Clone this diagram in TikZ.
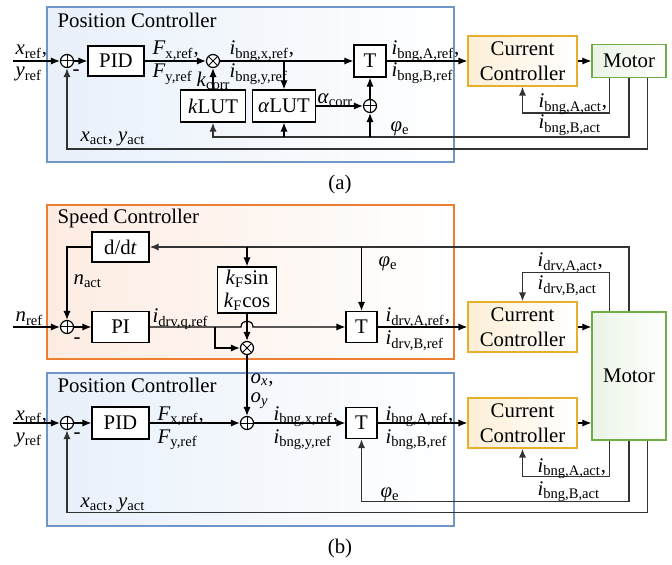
\documentclass[tikz,border=0pt]{standalone}
\usepackage{fontspec}
\setmainfont{Liberation Serif}
\usetikzlibrary{arrows.meta,calc}
\definecolor{posline}{RGB}{112,150,200}
\definecolor{posfill}{RGB}{232,240,250}
\definecolor{spdline}{RGB}{237,125,49}
\definecolor{spdfill}{RGB}{253,236,226}
\definecolor{ccline}{RGB}{232,175,45}
\definecolor{ccfill}{RGB}{253,239,215}
\definecolor{motline}{RGB}{112,173,71}
\definecolor{motfill}{RGB}{234,243,229}
\newcommand{\vsb}[2]{\textit{#1}\textsubscript{#2}}
\tikzset{blk/.style={draw, fill=white, inner sep=0pt}}
\tikzset{lb/.style={inner sep=0pt, anchor=base west}}
\tikzset{ccbox/.style={draw=ccline, left color=ccfill, right color=white, inner sep=0pt, align=center, minimum width=54.5pt, minimum height=25pt}}
\tikzset{motbox/.style={draw=motline, left color=motfill, right color=white, inner sep=0pt, minimum width=37pt}}
\tikzset{posbox/.style={draw=posline, left color=posfill, right color=white}}
\tikzset{spdbox/.style={draw=spdline, left color=spdfill, right color=white}}
\tikzset{fb/.style={draw=black!80, line width=0.8pt}}
\tikzset{sumc/.style={circle, draw, fill=white, inner sep=0pt, minimum size=6.5pt,
  path picture={\draw[line width=0.5pt] (path picture bounding box.north) -- (path picture bounding box.south)
    (path picture bounding box.west) -- (path picture bounding box.east);}}}
\tikzset{mulc/.style={circle, draw, fill=white, inner sep=0pt, minimum size=6.5pt,
  path picture={\draw[line width=0.5pt] (path picture bounding box.north west) -- (path picture bounding box.south east)
    (path picture bounding box.north east) -- (path picture bounding box.south west);}}}

\begin{document}
\begin{tikzpicture}[x=0.5pt, y=-0.5pt, line width=0.6pt,
    font=\fontsize{10.4}{12.5}\selectfont, >={Latex[length=4.5pt,width=3.6pt]}]
  \useasboundingbox (0,0) rectangle (672,565);
  % (a)
  \draw[posbox] (47,7) rectangle (454,162);
  \node[lb] (tiA) at (57,28) {Position Controller};
  \coordinate (inA) at (13,61);
  \node[sumc] (sA) at (67,61) {};
  \node[blk, minimum width=28pt, minimum height=15pt] (pidA) at (116,61) {PID};
  \node[mulc] (mA) at (213,61) {};
  \node[blk, minimum width=32.5pt, minimum height=16pt] (klut) at (213,106) {\textit{k}LUT};
  \node[blk, minimum width=31.5pt, minimum height=16pt] (alut) at (284,106) {\textit{α}LUT};
  \node[blk, minimum size=16pt] (tA) at (370,61) {T};
  \node[sumc] (aA) at (370,106) {};
  \node[ccbox] (ccA) at (522.5,61) {Current\\Controller};
  \node[motbox, minimum height=16.5pt] (motA) at (629,61) {Motor};
  \draw[->] (inA) -- (sA);
  \draw[->] (sA) -- (pidA);
  \draw[->] (pidA) -- (mA);
  \draw[->] (mA) -- (tA);
  \draw[->] (klut) -- (mA);
  \draw[->] (mA.east -| alut.north) -- (alut.north);
  \draw[->] (alut) -- (aA);
  \draw[->] (aA) -- (tA);
  \draw[->] (tA) -- (ccA);
  \draw[->] (ccA) -- (motA);
  \draw[fb, ->] ($(motA.south west)+(18,0)$) -- ++(0,35) -| (ccA.south);
  \draw[fb, ->] (motA.south) -- ++(0,59) coordinate (phA) -| (klut.south);
  \draw[->] (alut.south |- phA) -- (alut.south);
  \draw[->] (aA.south |- phA) -- (aA.south);
  \draw[fb, ->] ($(motA.south east)+(-19,0)$) -- ++(0,71) -| (sA.south);
  \node[lb] (xrA) at (15,55) {\vsb{x}{ref},};
  \node[lb] (yrA) at (15,77) {\vsb{y}{ref}};
  \node (mnA) at (76,73) {-};
  \node[lb] (fxA) at (152,55) {\vsb{F}{x,ref},};
  \node[lb] (fyA) at (152,78) {\vsb{F}{y,ref}};
  \node[lb] (ixA) at (229,55) {\vsb{i}{bng,x,ref},};
  \node[lb] (iyA) at (229,78) {\vsb{i}{bng,y,ref}};
  \node[lb] (kcA) at (196,87) {\vsb{k}{corr}};
  \node[lb] (acA) at (317,104) {\vsb{α}{corr}};
  \node[lb] (iaA) at (391,55) {\vsb{i}{bng,A,ref},};
  \node[lb] (ibA) at (391,77) {\vsb{i}{bng,B,ref}};
  \node[lb] (iaaA) at (538,108) {\vsb{i}{bng,A,act},};
  \node[lb] (ibaA) at (538,129) {\vsb{i}{bng,B,act}};
  \node[lb] (phlA) at (390,132) {\vsb{φ}{e}};
  \node[lb] (xaA) at (80,142) {\vsb{x}{act}, \vsb{y}{act}};
  \node (capA) at (340,185) {(a)};
  % (b) speed loop
  \draw[spdbox] (47,205) rectangle (454,359);
  \node[lb] (tiS) at (57,224) {Speed Controller};
  \coordinate (inS) at (13,327);
  \node[sumc] (sS) at (67,327) {};
  \node[blk, minimum width=28.5pt, minimum height=15pt] (ddt) at (120.5,247) {d/d\textit{t}};
  \node[blk, minimum width=28.5pt, minimum height=15.5pt] (pi) at (120.5,327) {PI};
  \node[blk, minimum width=29.5pt, minimum height=23pt, align=center] (kf) at (247,290)
    {\vsb{k}{F}sin\\[-1pt]\vsb{k}{F}cos};
  \node[mulc] (mS) at (247,348) {};
  \node[blk, minimum size=15.5pt] (tS) at (361.5,327) {T};
  \node[ccbox] (ccS) at (522.5,327) {Current\\Controller};
  \node[motbox, minimum height=64pt] (motB) at (629,376) {Motor};
  \coordinate (hop) at (pi.east -| kf.south);
  \coordinate (brS) at (215,327);
  \draw[->] (inS) -- (sS);
  \draw[->] (sS) -- (pi);
  \draw[->] (pi.east) -- ($(hop)+(-6,0)$) .. controls +(0,-8) and +(0,-8) .. ($(hop)+(6,0)$) -- (tS.west);
  \draw[->] (brS) |- (mS.west);
  \draw[->] (kf.south) -- (mS.north);
  \draw[->] (tS) -- (ccS);
  \draw[->] (ccS.east) -- (ccS.east -| motB.west);
  \draw[fb, ->] (motB.north) |- (ddt.east);
  \draw[->] (kf.north |- ddt.east) -- (kf.north);
  \draw[->] (tS.north |- ddt.east) -- (tS.north);
  \draw[->] (ddt.west) -| (sS.north);
  \draw[fb, ->] ($(motB.north west)+(18,0)$) -- ++(0,-39) -| (ccS.north);
  \node[lb] (nrS) at (15,322) {\vsb{n}{ref}};
  \node[lb] (naS) at (73,285) {\vsb{n}{act}};
  \node (mnS) at (77,341) {-};
  \node[lb] (iqS) at (152,323) {\vsb{i}{drv,q,ref}};
  \node[lb] (phlS) at (378,267) {\vsb{φ}{e}};
  \node[lb] (iaaS) at (537,267) {\vsb{i}{drv,A,act},};
  \node[lb] (ibaS) at (537,290) {\vsb{i}{drv,B,act}};
  \node[lb] (iaS) at (385,322) {\vsb{i}{drv,A,ref},};
  \node[lb] (ibS) at (385,345) {\vsb{i}{drv,B,ref}};
  % (b) position loop
  \draw[posbox] (47,373) rectangle (454,526);
  \node[lb] (tiP) at (57,392) {Position Controller};
  \coordinate (inP) at (13,423);
  \node[sumc] (sP) at (67,423) {};
  \node[blk, minimum width=28.5pt, minimum height=16pt] (pidB) at (120.5,423) {PID};
  \node[sumc] (aP) at (247,423) {};
  \node[blk, minimum size=15.5pt] (tP) at (361.5,423) {T};
  \node[ccbox] (ccP) at (522.5,423) {Current\\Controller};
  \draw[->] (mS.south) -- (aP.north);
  \draw[->] (inP) -- (sP);
  \draw[->] (sP) -- (pidB);
  \draw[->] (pidB) -- (aP);
  \draw[->] (aP) -- (tP);
  \draw[->] (tP) -- (ccP);
  \draw[->] (ccP.east) -- (ccP.east -| motB.west);
  \draw[fb, ->] ($(motB.south west)+(18,0)$) -- ++(0,36) -| (ccP.south);
  \draw[fb, ->] (motB.south) -- ++(0,61) -| (tP.south);
  \draw[fb, ->] ($(motB.south east)+(-19,0)$) -- ++(0,72) -| (sP.south);
  \node[lb] (oxP) at (250,383) {\textit{o}\textsubscript{\textit{x}},};
  \node[lb] (oyP) at (250,402) {\textit{o}\textsubscript{\textit{y}}};
  \node[lb] (xrP) at (15,420) {\vsb{x}{ref},};
  \node[lb] (yrP) at (15,442) {\vsb{y}{ref}};
  \node (mnP) at (77,436) {-};
  \node[lb] (fxP) at (157,420) {\vsb{F}{x,ref},};
  \node[lb] (fyP) at (157,443) {\vsb{F}{y,ref}};
  \node[lb] (ixP) at (273,420) {\vsb{i}{bng,x,ref},};
  \node[lb] (iyP) at (273,443) {\vsb{i}{bng,y,ref}};
  \node[lb] (iaP) at (385,420) {\vsb{i}{bng,A,ref},};
  \node[lb] (ibP) at (385,443) {\vsb{i}{bng,B,ref}};
  \node[lb] (iaaP) at (537,472) {\vsb{i}{bng,A,act},};
  \node[lb] (ibaP) at (537,495) {\vsb{i}{bng,B,act}};
  \node[lb] (phlP) at (380,497) {\vsb{φ}{e}};
  \node[lb] (xaP) at (80,507) {\vsb{x}{act}, \vsb{y}{act}};
  \node (capB) at (340,548) {(b)};
\end{tikzpicture}
\end{document}
